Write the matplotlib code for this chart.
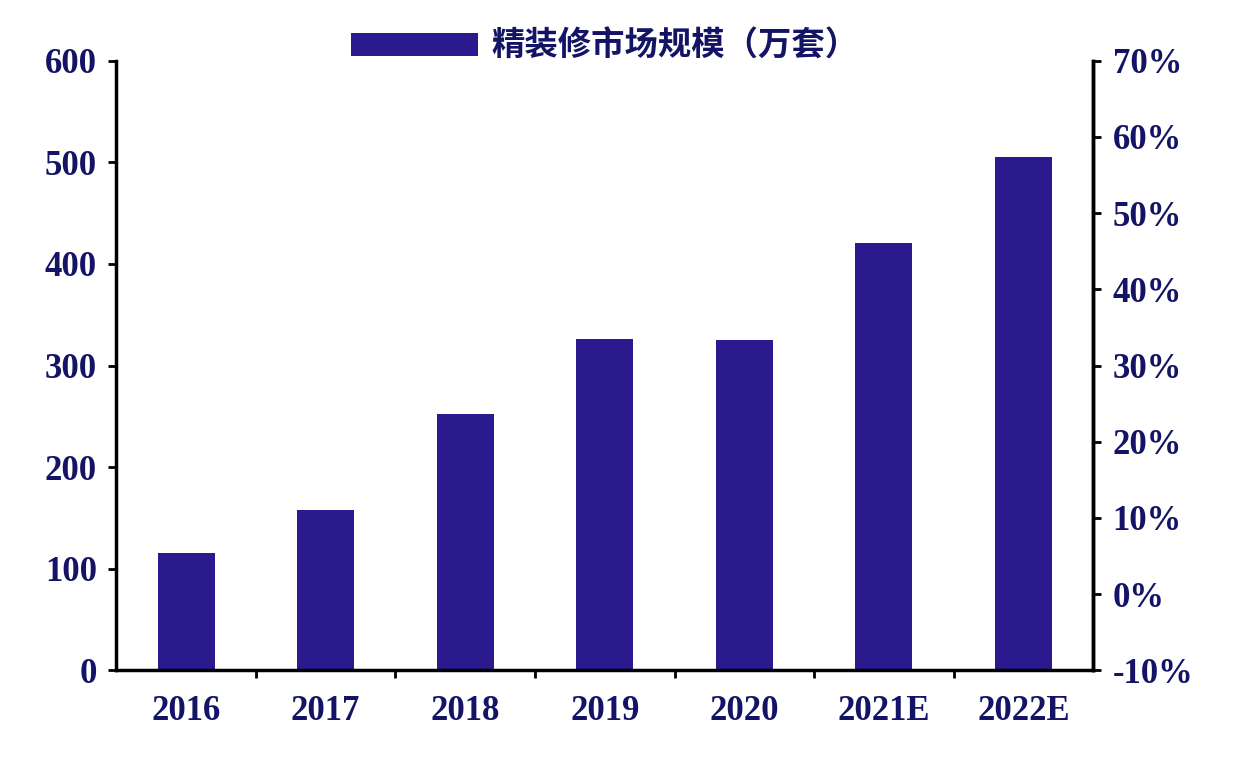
import numpy as np
import matplotlib
matplotlib.use('Agg')
import matplotlib.pyplot as plt
from matplotlib.ticker import FixedLocator

years = ['2016', '2017', '2018', '2019', '2020', '2021E', '2022E']
scale = [115, 158, 252, 326, 325, 421, 505]
label = '精装修市场规模（万套）'

navy = '#141466'
bar_color = '#2b1a8e'

fig = plt.figure(figsize=(12.38, 7.60), dpi=100)
ax = fig.add_axes([0.094, 0.118, 0.789, 0.802])
x = np.arange(len(years))
ax.bar(x, scale, width=0.41, color=bar_color, label=label)
ax.set_xlim(-0.5, len(years) - 0.5)
ax.set_ylim(0, 600)
ax.set_yticks(range(0, 601, 100))
ax.set_xticks(x)
ax.set_xticklabels(years)
ax.xaxis.set_minor_locator(FixedLocator(x[:-1] + 0.5))
ax.tick_params(axis='x', which='major', length=0, pad=18)
ax.tick_params(axis='x', which='minor', length=6, width=2, direction='out')
ax.tick_params(axis='y', length=6, width=2, direction='out', pad=8)
ax.spines['top'].set_visible(False)
for s in ['left', 'bottom', 'right']:
    ax.spines[s].set_linewidth(2.5)

ax2 = ax.twinx()
ax2.set_ylim(-10, 70)
ax2.set_yticks(range(-10, 71, 10))
ax2.set_yticklabels([f'{v}%' for v in range(-10, 71, 10)])
ax2.spines['top'].set_visible(False)
ax2.spines['right'].set_linewidth(2.5)
ax2.tick_params(axis='y', length=6, width=2, direction='out', pad=8)

for a in (ax, ax2):
    for t in a.get_xticklabels() + a.get_yticklabels():
        t.set_fontfamily('Liberation Serif')
        t.set_fontsize(25)
        t.set_fontweight('bold')
        t.set_color(navy)

leg = ax.legend(loc='upper center', bbox_to_anchor=(0.5, 1.1), frameon=False,
                prop={'family': ['Noto Sans CJK SC', 'DejaVu Sans'], 'size': 24,
                      'weight': 'bold'},
                handlelength=3.8, handleheight=0.7, handletextpad=0.4)
for t in leg.get_texts():
    t.set_color(navy)

fig.savefig('out.png', dpi=100)
